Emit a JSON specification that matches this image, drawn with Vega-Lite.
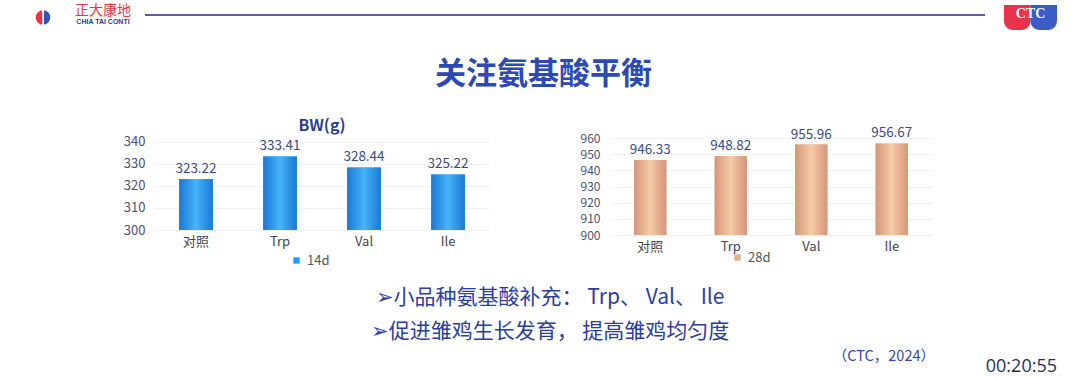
{
  "$schema": "https://vega.github.io/schema/vega-lite/v6.json",
  "background": "white",
  "padding": {"left": 25, "top": 3, "right": 0, "bottom": 0},
  "config": {
    "view": {"stroke": null},
    "font": "Noto Sans CJK SC",
    "axis": {"domain": false, "ticks": false, "title": null, "grid": false, "labelFont": "Noto Sans CJK SC"}
  },
  "datasets": {
    "d14": [
      {"g": "对照", "v": 323.22, "s": "14d"},
      {"g": "Trp", "v": 333.41, "s": "14d"},
      {"g": "Val", "v": 328.44, "s": "14d"},
      {"g": "Ile", "v": 325.22, "s": "14d"}
    ],
    "d28": [
      {"g": "对照", "v": 946.33, "s": "28d"},
      {"g": "Trp", "v": 948.82, "s": "28d"},
      {"g": "Val", "v": 955.96, "s": "28d"},
      {"g": "Ile", "v": 956.67, "s": "28d"}
    ],
    "bullets": [
      {"k": 1, "t": "➢小品种氨基酸补充： Trp、 Val、 Ile"},
      {"k": 2, "t": "➢促进雏鸡生长发育， 提高雏鸡均匀度"}
    ],
    "logo": [{"k": "b", "v": 1}, {"k": "r", "v": 1}],
    "ctc": [{"k": "r"}, {"k": "b"}]
  },
  "title": {"text": "00:20:55", "orient": "bottom", "anchor": "end", "dx": -18, "offset": -6, "fontSize": 18, "fontWeight": "normal", "color": "#2b2f4e", "font": "Open Sans"},
  "spacing": 13,
  "resolve": {"scale": {"color": "independent"}, "legend": {"color": "independent"}},
  "vconcat": [
    {
      "bounds": "flush",
      "spacing": 0,
      "resolve": {"scale": {"color": "independent"}, "legend": {"color": "independent"}},
      "hconcat": [
        {
          "width": 36, "height": 25,
          "data": {"name": "logo"},
          "mark": {"type": "arc", "radius": 8, "stroke": "white", "strokeWidth": 1.5},
          "encoding": {
            "theta": {"field": "v", "type": "quantitative"},
            "color": {"field": "k", "type": "nominal", "scale": {"domain": ["b", "r"], "range": ["#2f55b8", "#e8334a"]}, "legend": null}
          }
        },
        {
          "width": 84, "height": 25,
          "layer": [
            {
              "data": {"values": [{"t": "正大康地"}]},
              "mark": {"type": "text", "baseline": "bottom", "fontSize": 14, "color": "#e23a4c"},
              "encoding": {"text": {"field": "t"}}
            },
            {
              "data": {"values": [{"t": "CHIA TAI CONTI"}]},
              "mark": {"type": "text", "baseline": "top", "fontSize": 7, "fontWeight": "bold", "color": "#2c3d8f", "font": "Liberation Sans"},
              "encoding": {"text": {"field": "t"}}
            }
          ]
        },
        {
          "width": 840, "height": 20,
          "data": {"values": [{}]},
          "mark": {"type": "rule", "color": "#5b5e9e", "strokeWidth": 2},
          "encoding": {
            "x": {"datum": 0, "type": "quantitative", "scale": {"domain": [0, 1]}, "axis": null},
            "x2": {"datum": 1}
          }
        },
        {
          "width": 19, "height": 40,
          "data": {"values": []},
          "mark": "text",
          "encoding": {}
        },
        {
          "width": 53, "height": 25,
          "data": {"name": "ctc"},
          "layer": [
            {
              "mark": {"type": "bar", "cornerRadiusBottomLeft": 9, "cornerRadiusBottomRight": 9},
              "encoding": {
                "x": {"field": "k", "type": "nominal", "sort": null, "scale": {"paddingInner": 0, "paddingOuter": 0}, "axis": null},
                "color": {"field": "k", "type": "nominal", "scale": {"domain": ["r", "b"], "range": ["#e8334a", "#3b5cc6"]}, "legend": null}
              }
            },
            {
              "data": {"values": [{"t": "CTC"}]},
              "mark": {"type": "text", "baseline": "alphabetic", "fontSize": 14, "fontWeight": "bold", "color": "white", "font": "Liberation Serif"},
              "encoding": {"text": {"field": "t"}}
            }
          ]
        }
      ]
    },
    {
      "title": {"text": "关注氨基酸平衡", "fontSize": 31, "fontWeight": "bold", "color": "#2c49b4", "anchor": "middle", "dx": 65, "offset": 27},
      "bounds": "flush",
      "spacing": 120,
      "resolve": {"scale": {"color": "independent"}, "legend": {"color": "independent"}},
      "hconcat": [
        {
          "width": 9, "height": 10,
          "data": {"values": []},
          "mark": "text",
          "encoding": {}
        },
        {
          "width": 336, "height": 92,
          "data": {"name": "d14"},
          "title": {"text": "BW(g)", "fontSize": 16, "fontWeight": "bold", "color": "#2e3f8c", "offset": 2},
          "encoding": {
            "x": {"field": "g", "type": "nominal", "sort": null, "scale": {"paddingInner": 0.6, "paddingOuter": 0.3}, "axis": {"labelAngle": 0, "labelFontSize": 13, "labelColor": "#444444", "labelPadding": 5}},
            "y": {"field": "v", "type": "quantitative", "scale": {"domain": [300, 341.8], "nice": false, "zero": false}, "axis": {"values": [300, 310, 320, 330, 340], "labelFontSize": 13, "labelColor": "#4d5270", "labelPadding": 9, "grid": true, "gridColor": "#eef1f5"}}
          },
          "layer": [
            {
              "mark": {"type": "bar"},
              "encoding": {
                "y2": {"datum": 300},
                "color": {"field": "s", "type": "nominal", "scale": {"range": ["#2b98f0"]}, "legend": {"orient": "none", "legendX": 136, "legendY": 116, "symbolType": "square", "symbolSize": 40, "labelFontSize": 13, "labelColor": "#555555", "title": null}}
              }
            },
            {
              "mark": {"type": "bar", "color": {"gradient": "linear", "x1": 0, "x2": 1, "y1": 0, "y2": 0, "stops": [{"offset": 0, "color": "#1a78d4"}, {"offset": 0.5, "color": "#46b4fa"}, {"offset": 1, "color": "#1a78d4"}]}},
              "encoding": {"y2": {"datum": 300}}
            },
            {
              "mark": {"type": "text", "baseline": "bottom", "dy": -3, "fontSize": 13.5, "color": "#3d4a7c"},
              "encoding": {"text": {"field": "v", "type": "quantitative", "format": ".2f"}}
            }
          ]
        },
        {
          "width": 322, "height": 97,
          "data": {"name": "d28"},
          "encoding": {
            "x": {"field": "g", "type": "nominal", "sort": null, "scale": {"paddingInner": 0.6, "paddingOuter": 0.3}, "axis": {"labelAngle": 0, "labelFontSize": 13, "labelColor": "#444444", "labelPadding": 5}},
            "y": {"field": "v", "type": "quantitative", "scale": {"domain": [900, 960], "nice": false, "zero": false}, "axis": {"values": [900, 910, 920, 930, 940, 950, 960], "labelFontSize": 12, "labelColor": "#4d5270", "labelPadding": 10, "grid": true, "gridColor": "#eef1f5"}}
          },
          "layer": [
            {
              "mark": {"type": "bar"},
              "encoding": {
                "y2": {"datum": 900},
                "color": {"field": "s", "type": "nominal", "scale": {"range": ["#e7ad88"]}, "legend": {"orient": "none", "legendX": 121, "legendY": 113, "symbolType": "square", "symbolSize": 40, "labelFontSize": 13, "labelColor": "#555555", "title": null}}
              }
            },
            {
              "mark": {"type": "bar", "color": {"gradient": "linear", "x1": 0, "x2": 1, "y1": 0, "y2": 0, "stops": [{"offset": 0, "color": "#d5957a"}, {"offset": 0.5, "color": "#f7cba6"}, {"offset": 1, "color": "#d5957a"}]}},
              "encoding": {"y2": {"datum": 900}}
            },
            {
              "mark": {"type": "text", "baseline": "bottom", "dy": -3, "fontSize": 13.5, "color": "#3d4a7c"},
              "encoding": {"text": {"field": "v", "type": "quantitative", "format": ".2f"}}
            }
          ]
        }
      ]
    },
    {
      "width": 1050, "height": 68,
      "data": {"name": "bullets"},
      "title": {"text": "（CTC，2024）", "orient": "bottom", "anchor": "end", "dx": -140, "offset": 1, "fontSize": 14.5, "fontWeight": "normal", "color": "#3446a6"},
      "mark": {"type": "text", "fontSize": 21, "color": "#2d3d9e"},
      "encoding": {
        "y": {"field": "k", "type": "ordinal", "axis": null},
        "text": {"field": "t"}
      }
    }
  ]
}
